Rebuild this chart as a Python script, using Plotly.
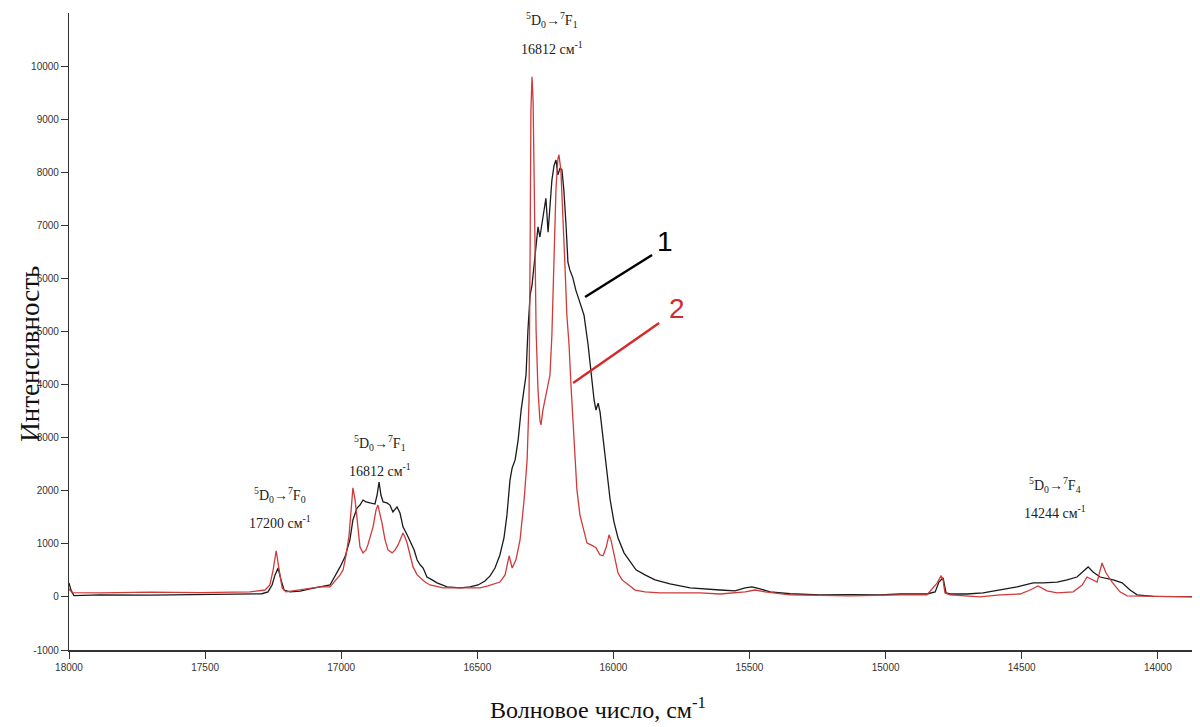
import plotly.graph_objects as go

# Curve 1 (black)
wn1 = [18000, 17993, 17982, 17886, 17702, 17519, 17335, 17291, 17269, 17254, 17243, 17232, 17221, 17210,
       17188, 17151, 17115, 17078, 17041, 17004, 16986, 16968, 16957, 16942, 16931, 16920, 16909, 16894,
       16876, 16868, 16861, 16854, 16846, 16832, 16821, 16810, 16795, 16784, 16773, 16758, 16747, 16732,
       16721, 16710, 16699, 16685, 16666, 16648, 16611, 16563, 16527, 16497, 16472, 16453, 16435, 16417,
       16402, 16391, 16380, 16372, 16361, 16350, 16339, 16328, 16321, 16314, 16306, 16299, 16292, 16284,
       16277, 16270, 16262, 16255, 16248, 16240, 16233, 16226, 16218, 16211, 16204, 16196, 16189, 16182,
       16174, 16167, 16160, 16149, 16138, 16123, 16108, 16093, 16082, 16071, 16064, 16056, 16049, 16038,
       16027, 16012, 15998, 15983, 15961, 15939, 15917, 15884, 15847, 15792, 15718, 15608, 15553, 15516,
       15491, 15461, 15424, 15351, 15241, 15131, 15020, 14947, 14848, 14818, 14804, 14789, 14785, 14778,
       14763, 14701, 14642, 14579, 14517, 14458, 14422, 14370, 14333, 14297, 14256, 14238, 14212, 14164,
       14131, 14102, 14076, 14017, 13845]
int1 = [264, 132, 25, 40, 35, 50, 55, 60, 95, 225, 415, 545, 320, 130,
        95, 110, 150, 190, 225, 565, 755, 1075, 1450, 1675, 1730, 1825, 1790, 1770,
        1750, 1920, 2165, 1920, 1790, 1770, 1730, 1600, 1695, 1580, 1320, 1170, 1040, 885,
        695, 605, 545, 375, 320, 265, 190, 170, 190, 225, 300, 395, 545, 790,
        1110, 1545, 2200, 2430, 2580, 2955, 3520, 3995, 4180, 5020, 5685, 5875, 6250, 6630,
        6970, 6780, 7060, 7340, 7510, 6870, 7380, 7850, 8130, 8230, 7950, 8080, 8040, 7660,
        7000, 6300, 6160, 6010, 5780, 5540, 5310, 4750, 4180, 3710, 3520, 3650, 3480, 2955,
        2430, 1830, 1415, 1110, 830, 660, 510, 415, 320, 245, 170, 130, 115, 170,
        190, 150, 95, 60, 40, 45, 40, 55, 55, 95, 280, 360, 265, 75,
        55, 55, 75, 130, 190, 265, 265, 280, 320, 375, 565, 470, 375, 320,
        265, 130, 40, 10, 5]

# Curve 2 (red)
wn2 = [18000, 17989, 17886, 17702, 17519, 17335, 17280, 17262, 17250, 17239, 17228, 17217, 17203, 17151,
       17078, 17041, 17004, 16993, 16982, 16971, 16964, 16957, 16949, 16942, 16931, 16920, 16909, 16902,
       16891, 16883, 16872, 16865, 16857, 16850, 16839, 16828, 16813, 16802, 16791, 16780, 16773, 16766,
       16758, 16747, 16736, 16721, 16710, 16692, 16674, 16648, 16626, 16563, 16527, 16490, 16461, 16435,
       16417, 16398, 16383, 16372, 16358, 16343, 16328, 16317, 16310, 16306, 16303, 16299, 16295, 16292,
       16288, 16284, 16277, 16270, 16266, 16259, 16248, 16240, 16233, 16226, 16218, 16211, 16204, 16200,
       16193, 16185, 16178, 16171, 16163, 16156, 16145, 16134, 16123, 16112, 16097, 16082, 16064, 16049,
       16038, 16027, 16016, 16009, 15998, 15983, 15968, 15946, 15920, 15884, 15829, 15755, 15682, 15608,
       15516, 15480, 15443, 15351, 15131, 14947, 14848, 14811, 14796, 14789, 14782, 14763, 14701, 14653,
       14579, 14506, 14469, 14440, 14407, 14370, 14311, 14278, 14260, 14241, 14223, 14205, 14190, 14168,
       14139, 14113, 13992, 13845]
int2 = [150, 80, 75, 90, 80, 95, 130, 225, 510, 870, 510, 170, 95, 130,
        190, 190, 415, 510, 790, 1170, 1640, 2055, 1830, 1450, 940, 830, 885, 980,
        1170, 1320, 1640, 1730, 1545, 1390, 1075, 885, 830, 885, 980, 1130, 1205, 1130,
        1015, 790, 565, 415, 360, 280, 225, 190, 170, 170, 170, 170, 210, 260,
        280, 415, 775, 545, 700, 1075, 1830, 2580, 3690, 6510, 9170, 9800, 9340, 8210,
        6320, 5020, 3895, 3330, 3240, 3520, 3800, 3990, 4180, 4930, 6340, 7680, 8250, 8330,
        8040, 7190, 6250, 5310, 4750, 4000, 2920, 2015, 1545, 1320, 1015, 980, 925, 790,
        775, 925, 1170, 1075, 790, 450, 320, 225, 130, 95, 75, 75, 75, 55,
        95, 130, 95, 40, 20, 40, 40, 260, 400, 320, 75, 40, 20, 0,
        40, 55, 130, 205, 115, 75, 95, 225, 375, 320, 280, 640, 450, 280,
        95, 20, 5, 0]

x_ticks = [18000, 17500, 17000, 16500, 16000, 15500, 15000, 14500, 14000]
y_ticks = [-1000, 0, 1000, 2000, 3000, 4000, 5000, 6000, 7000, 8000, 9000, 10000]

BLACK = "#1a1a1a"
RED = "#d03a3a"
SERIF = "Liberation Serif, Times New Roman, serif"
SANS = "Liberation Sans, Arial, sans-serif"

fig = go.Figure()
fig.add_trace(go.Scatter(x=wn1, y=int1, mode="lines", line=dict(color=BLACK, width=1.3), showlegend=False))
fig.add_trace(go.Scatter(x=wn2, y=int2, mode="lines", line=dict(color=RED, width=1.3), showlegend=False))

# pointer lines for labels 1 and 2
fig.add_shape(type="line", x0=16104, y0=5650, x1=15858, y1=6440, line=dict(color="#000000", width=2.4))
fig.add_shape(type="line", x0=16148, y0=4030, x1=15832, y1=5160, line=dict(color="#d42a2a", width=2.4))
fig.add_annotation(x=15810, y=6700, text="1", showarrow=False, font=dict(family=SANS, size=28, color="#000000"))
fig.add_annotation(x=15766, y=5440, text="2", showarrow=False, font=dict(family=SANS, size=28, color="#d42a2a"))

ann = [
    (17225, 1920, "<sup>5</sup>D<sub>0</sub>→<sup>7</sup>F<sub>0</sub>"),
    (17225, 1410, "17200 см<sup>-1</sup>"),
    (16857, 2900, "<sup>5</sup>D<sub>0</sub>→<sup>7</sup>F<sub>1</sub>"),
    (16857, 2390, "16812 см<sup>-1</sup>"),
    (16225, 10865, "<sup>5</sup>D<sub>0</sub>→<sup>7</sup>F<sub>1</sub>"),
    (16225, 10340, "16812 см<sup>-1</sup>"),
    (14377, 2110, "<sup>5</sup>D<sub>0</sub>→<sup>7</sup>F<sub>4</sub>"),
    (14377, 1600, "14244 см<sup>-1</sup>"),
]
for ax, ay, t in ann:
    fig.add_annotation(x=ax, y=ay, text=t, showarrow=False,
                       font=dict(family=SERIF, size=14, color="#222222"))

# the page body has an 8px margin, so the figure is sized to fit the window
fig.update_layout(
    width=1192, height=719,
    margin=dict(l=61, r=0, t=5, b=77),
    paper_bgcolor="white", plot_bgcolor="white",
)
fig.update_xaxes(range=[18000, 13845], tickvals=x_ticks, ticktext=[str(v) for v in x_ticks],
                 showgrid=False, zeroline=False, showline=True, linecolor="#333333", linewidth=1.8,
                 ticks="outside", ticklen=7, tickcolor="#333333", tickwidth=1,
                 tickfont=dict(family=SANS, size=10, color="#333333"), automargin=False)
fig.update_yaxes(range=[-1000, 11000], tickvals=y_ticks, ticktext=[str(v) for v in y_ticks],
                 showgrid=False, zeroline=False, showline=True, linecolor="#333333", linewidth=1.2,
                 ticks="outside", ticklen=7, tickcolor="#333333", tickwidth=1,
                 tickfont=dict(family=SANS, size=10, color="#333333"), automargin=False)

fig.add_annotation(xref="paper", yref="paper", x=0.468, y=-0.091, yanchor="middle",
                   text="Волновое число, см<sup>-1</sup>", showarrow=False,
                   font=dict(family=SERIF, size=24, color="#111111"))
fig.add_annotation(xref="paper", yref="paper", x=-0.0345, y=0.465, xanchor="center", yanchor="middle",
                   textangle=-90, text="Интенсивность", showarrow=False,
                   font=dict(family=SERIF, size=27, color="#111111"))

fig.write_html("out.html")
